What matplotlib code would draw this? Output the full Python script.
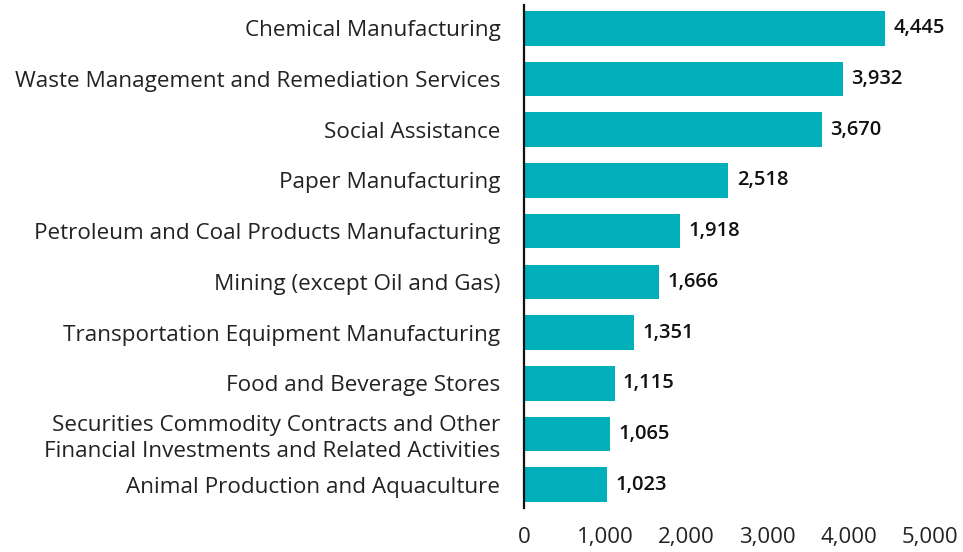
import matplotlib
matplotlib.use("Agg")
import matplotlib.pyplot as plt
from matplotlib.ticker import FuncFormatter

categories = [
    "Chemical Manufacturing",
    "Waste Management and Remediation Services",
    "Social Assistance",
    "Paper Manufacturing",
    "Petroleum and Coal Products Manufacturing",
    "Mining (except Oil and Gas)",
    "Transportation Equipment Manufacturing",
    "Food and Beverage Stores",
    "Securities Commodity Contracts and Other\nFinancial Investments and Related Activities",
    "Animal Production and Aquaculture",
]
values = [4445, 3932, 3670, 2518, 1918, 1666, 1351, 1115, 1065, 1023]
xticks = [0, 1000, 2000, 3000, 4000, 5000]

plt.rcParams['font.family'] = ['Open Sans', 'DejaVu Sans']

fig = plt.figure(figsize=(9.63, 5.52), dpi=100)
ax = fig.add_axes([524/963, 1 - 508/552, (930-524)/963, (508-5)/552])

y = list(range(len(categories)))
ax.barh(y, values, height=0.68, color="#00AFBA")
ax.set_ylim(len(categories) - 0.54, -0.46)
ax.set_xlim(0, 5000)
ax.set_yticks(y)
ax.set_yticklabels(categories, fontsize=16.2, color="#222222", linespacing=1.3)
ax.set_xticks(xticks)
ax.xaxis.set_major_formatter(FuncFormatter(lambda v, p: f"{int(v):,}"))
ax.tick_params(axis='x', length=0, labelsize=16, pad=14, colors="#222222")
ax.tick_params(axis='y', length=0, pad=17)
for s in ['top', 'right', 'bottom']:
    ax.spines[s].set_visible(False)
ax.spines['left'].set_linewidth(1.6)
ax.spines['left'].set_color("#111111")

for yi, v in zip(y, values):
    ax.annotate(f"{v:,}", (v, yi), xytext=(6, 0), textcoords='offset points',
                va='center', ha='left', fontsize=14.5, fontweight='semibold', color="#111111")

fig.savefig("out.png", dpi=100)
